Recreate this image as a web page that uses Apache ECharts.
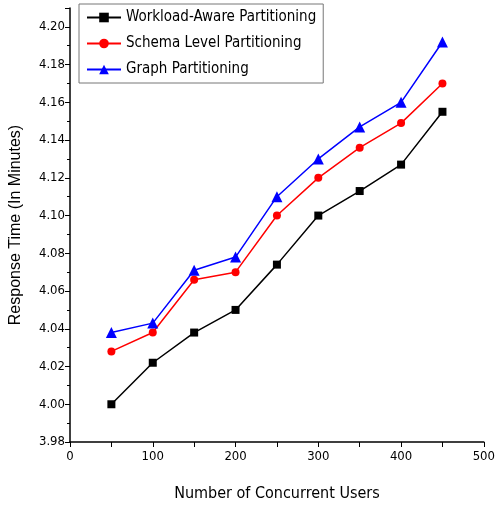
<!DOCTYPE html>
<html><head><meta charset="utf-8">
<script src="https://cdn.jsdelivr.net/npm/echarts@6/dist/echarts.min.js"></script>
<style>html,body{margin:0;padding:0;background:#fff}#c{width:498px;height:507px}</style>
</head><body><div id="c"></div>
<script>
const users = [50, 100, 150, 200, 250, 300, 350, 400, 450];
const workloadAware = [4.000, 4.022, 4.038, 4.050, 4.074, 4.100, 4.113, 4.127, 4.155];
const schemaLevel = [4.028, 4.038, 4.066, 4.070, 4.100, 4.120, 4.136, 4.149, 4.170];
const graphPart = [4.038, 4.043, 4.071, 4.078, 4.110, 4.130, 4.147, 4.160, 4.192];
const names = ['Workload-Aware Partitioning', 'Schema Level Partitioning', 'Graph Partitioning'];

const narrow = 'DejaVu Sans Condensed, Liberation Sans, sans-serif';
const chart = echarts.init(document.getElementById('c'));
function mk(name, vals, color, symbol, size) {
  return {
    name, type: 'line', data: users.map((u, i) => [u, vals[i]]),
    symbol, symbolSize: size, lineStyle: {color, width: 1.5},
    itemStyle: {color}, animation: false
  };
}
chart.setOption({
  animation: false,
  grid: {left: 70, right: 14, top: 8, bottom: 64},
  legend: {
    orient: 'vertical', left: 79, top: 4, data: names,
    borderColor: '#777', borderWidth: 1, padding: [6, 7, 6, 7],
    itemGap: 11, itemWidth: 34, itemHeight: 12,
    textStyle: {fontFamily: narrow, fontSize: 15, color: '#000'}
  },
  xAxis: {
    type: 'value', min: 0, max: 500, interval: 100,
    name: 'Number of Concurrent Users', nameLocation: 'middle', nameGap: 44,
    nameTextStyle: {fontFamily: narrow, fontSize: 16, color: '#000'},
    axisLine: {lineStyle: {color: '#000', width: 1.5}},
    axisTick: {show: true, length: 5, lineStyle: {color: '#000'}},
    minorTick: {show: true, splitNumber: 2, length: 5, lineStyle: {color: '#000'}},
    axisLabel: {fontFamily: narrow, fontSize: 13, color: '#000', margin: 8},
    splitLine: {show: false}
  },
  yAxis: {
    type: 'value', min: 3.98, max: 4.21, interval: 0.02,
    name: 'Response Time (In Minutes)', nameLocation: 'middle', nameGap: 46,
    nameTextStyle: {fontFamily: 'Liberation Sans, Arial, sans-serif', fontSize: 16, color: '#000'},
    axisLine: {show: true, lineStyle: {color: '#000', width: 1.5}},
    axisTick: {show: true, length: 5, lineStyle: {color: '#000'}},
    minorTick: {show: true, splitNumber: 2, length: 3, lineStyle: {color: '#000'}},
    axisLabel: {fontFamily: narrow, fontSize: 13, color: '#000', margin: 5, showMaxLabel: false,
      formatter: v => v.toFixed(2)},
    splitLine: {show: false}
  },
  series: [
    mk(names[0], workloadAware, '#000000', 'rect', 8),
    mk(names[1], schemaLevel, '#ff0000', 'circle', 8),
    mk(names[2], graphPart, '#0000ff', 'triangle', 11)
  ]
});
</script></body></html>
